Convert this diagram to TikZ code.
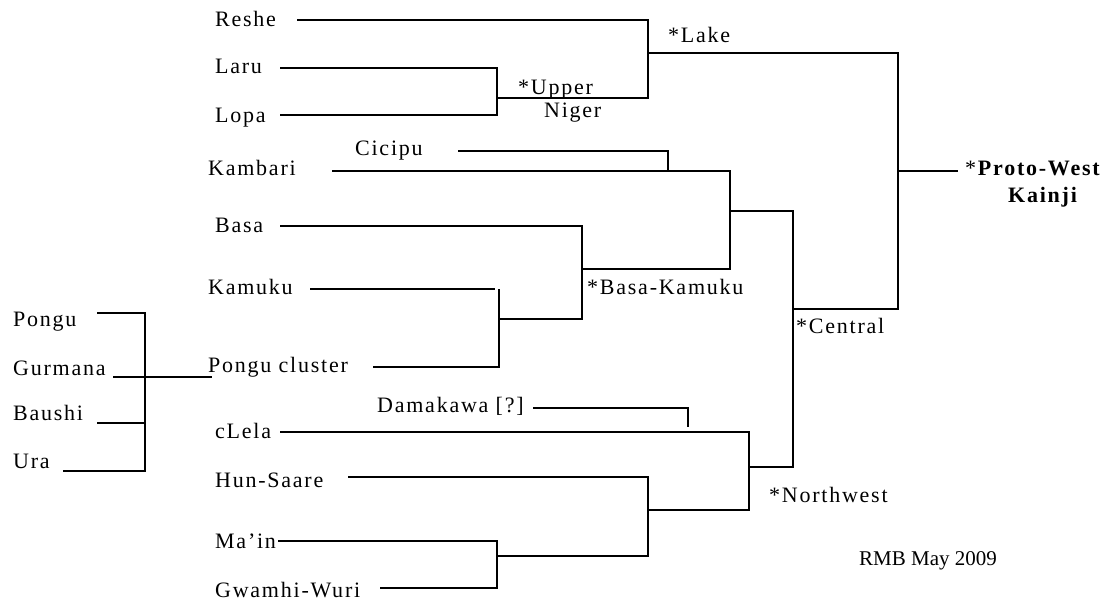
\documentclass[tikz,border=0pt]{standalone}
\usepackage{fontspec}
\setmainfont{Liberation Serif}[LetterSpace=8]
\newfontfamily\signfont{Liberation Serif}

\begin{document}
\begin{tikzpicture}[x=1pt, y=-1pt,
        lang/.style={anchor=base west, inner sep=0pt, font=\fontsize{22}{24}\selectfont},
        proto/.style={lang, align=left},
        branch/.style={line width=1.5pt},
        ]
    \useasboundingbox (0,0) rectangle (1110,602);

    % languages
    \node (reshe) [lang] at (215,27) {Reshe};
    \node (laru) [lang] at (215,74) {Laru};
    \node (lopa) [lang] at (215,122) {Lopa};
    \node (cicipu) [lang] at (355,155) {Cicipu};
    \node (kambari) [lang] at (208,175) {Kambari};
    \node (basa) [lang] at (215,232) {Basa};
    \node (kamuku) [lang] at (208,294) {Kamuku};
    \node (pcluster) [lang] at (208,372) {Pongu cluster};
    \node (pongu) [lang] at (13,326) {Pongu};
    \node (gurmana) [lang] at (13,375) {Gurmana};
    \node (baushi) [lang] at (13,420) {Baushi};
    \node (ura) [lang] at (13,468) {Ura};
    \node (damakawa) [lang] at (377,412) {Damakawa [?]};
    \node (clela) [lang] at (215,438) {cLela};
    \node (hunsaare) [lang] at (215,487) {Hun-Saare};
    \node (main) [lang] at (215,548) {Ma'in};
    \node (gwamhi) [lang] at (215,597) {Gwamhi-Wuri};

    % reconstructed nodes
    \node (upniger-t) [proto, font=\fontsize{22}{23}\selectfont] at (518,117) {*Upper\\\hspace*{26pt}Niger};
    \node (lake-t) [lang] at (668,43) {*Lake};
    \node (bk-t) [lang] at (587,294) {*Basa-Kamuku};
    \node (central-t) [lang] at (796,333) {*Central};
    \node (nw-t) [lang] at (769,502) {*Northwest};
    \node (proto) [proto, font=\fontsize{22}{27}\selectfont] at (965,202) {*\textbf{Proto-West}\\\hspace*{43pt}\textbf{Kainji}};
    \node (sign) [anchor=base west, inner sep=0pt, font=\signfont\fontsize{21}{24}\selectfont] at (859,565) {RMB May 2009};

    % line ends
    \coordinate (reshe-l) at (297,20);
    \coordinate (laru-l) at (280,68);
    \coordinate (lopa-l) at (280,115);
    \coordinate (cicipu-l) at (458,151);
    \coordinate (kambari-l) at (332,171);
    \coordinate (basa-l) at (280,226);
    \coordinate (kamuku-l) at (310,289);
    \coordinate (kamuku-r) at (495,289);
    \coordinate (pcl-l) at (373,367);
    \coordinate (pcl-in) at (212,377);
    \coordinate (pongu-l) at (97,313);
    \coordinate (gurmana-l) at (113,377);
    \coordinate (baushi-l) at (97,423);
    \coordinate (ura-l) at (63,471);
    \coordinate (damakawa-l) at (533,408);
    \coordinate (damakawa-r) at (688,427);
    \coordinate (clela-l) at (280,432);
    \coordinate (hunsaare-l) at (348,477);
    \coordinate (main-l) at (278,541);
    \coordinate (gwamhi-l) at (380,588);

    % joins
    \coordinate (pg) at (145,377);
    \coordinate (upniger) at (497,98);
    \coordinate (lake) at (648,53);
    \coordinate (cicjoin) at (668,171);
    \coordinate (kbk) at (730,211);
    \coordinate (bk) at (582,269);
    \coordinate (kp) at (499,319);
    \coordinate (central) at (793,309);
    \coordinate (nw) at (749,467);
    \coordinate (hm) at (648,510);
    \coordinate (mg) at (497,556);
    \coordinate (root) at (898,171);
    \coordinate (root-r) at (958,171);

    % branches
    \draw[branch] (reshe-l) -| (lake);
    \draw[branch] (laru-l) -| (upniger);
    \draw[branch] (lopa-l) -| (upniger);
    \draw[branch] (upniger) -| (lake);
    \draw[branch] (lake) -| (root);
    \draw[branch] (cicipu-l) -| (cicjoin);
    \draw[branch] (kambari-l) -| (kbk);
    \draw[branch] (basa-l) -| (bk);
    \draw[branch] (kamuku-l) -- (kamuku-r);
    \draw[branch] (pcl-l) -| (kamuku-l -| kp);
    \draw[branch] (kp) -| (bk);
    \draw[branch] (bk) -| (kbk);
    \draw[branch] (kbk) -| (central);
    \draw[branch] (pongu-l) -| (pg);
    \draw[branch] (baushi-l) -| (pg);
    \draw[branch] (ura-l) -| (pg);
    \draw[branch] (gurmana-l) -- (pg) -- (pcl-in);
    \draw[branch] (damakawa-l) -| (damakawa-r);
    \draw[branch] (clela-l) -| (nw);
    \draw[branch] (hunsaare-l) -| (hm);
    \draw[branch] (main-l) -| (mg);
    \draw[branch] (gwamhi-l) -| (mg);
    \draw[branch] (mg) -| (hm);
    \draw[branch] (hm) -| (nw);
    \draw[branch] (nw) -| (central);
    \draw[branch] (central) -| (root);
    \draw[branch] (root) -- (root-r);
\end{tikzpicture}
\end{document}
